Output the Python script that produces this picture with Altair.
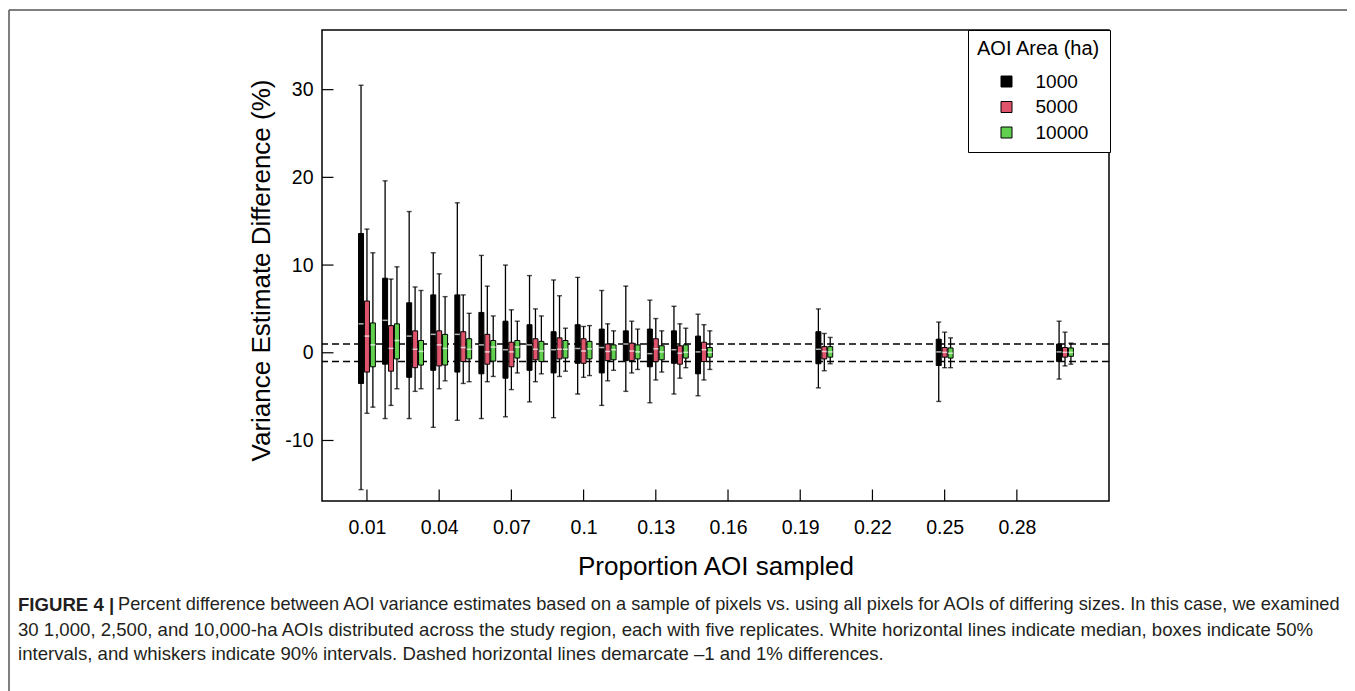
import altair as alt
import pandas as pd

# ---- data ----
proportions = [0.01, 0.02, 0.03, 0.04, 0.05, 0.06, 0.07, 0.08, 0.09, 0.10,
               0.11, 0.12, 0.13, 0.14, 0.15, 0.20, 0.25, 0.30]
areas = ["1000", "5000", "10000"]
colors = ["#000000", "#DF536B", "#61D04F"]

# AOI 1000 ha
hi_1000 = [30.5, 19.6, 16.1, 11.4, 17.1, 11.1, 10.0, 8.8, 8.3, 8.6, 7.1, 7.6, 6.0, 5.3, 4.4, 5.0, 3.5, 3.6]
q3_1000 = [13.6, 8.5, 5.7, 6.6, 6.6, 4.6, 3.6, 3.2, 2.4, 3.2, 2.7, 2.5, 2.7, 2.5, 1.9, 2.4, 1.55, 1.0]
med_1000 = [3.3, 3.7, 1.9, 2.1, 2.1, 0.9, 0.35, 0.9, 0.35, 0.5, 0.6, 1.0, -0.1, 0.35, 0.1, 0.4, 0.1, 0.1]
q1_1000 = [-3.5, -1.3, -2.8, -2.0, -2.2, -2.4, -2.9, -2.0, -2.3, -1.2, -2.3, -0.9, -1.6, -1.2, -2.4, -1.25, -1.45, -1.0]
lo_1000 = [-15.6, -7.5, -7.5, -8.5, -7.7, -7.5, -7.3, -5.6, -7.4, -4.7, -6.0, -4.4, -5.7, -4.7, -4.9, -4.0, -5.55, -3.0]

# AOI 5000 ha
hi_5000 = [14.1, 8.4, 7.5, 9.0, 6.6, 7.6, 4.9, 5.0, 6.5, 3.0, 3.3, 3.6, 3.9, 3.3, 3.2, 2.2, 2.35, 2.35]
q3_5000 = [5.9, 3.1, 2.5, 2.5, 2.4, 2.1, 1.2, 1.6, 1.7, 1.6, 1.0, 1.1, 1.6, 0.8, 1.2, 0.7, 0.6, 0.6]
med_5000 = [1.9, 0.5, 0.4, 0.9, 0.6, 0.1, 0.1, 0.4, 0.4, 0.2, 0.15, 0.2, 0.45, -0.05, 0.35, 0.15, 0.05, 0.05]
q1_5000 = [-2.2, -2.1, -1.7, -1.5, -1.0, -1.3, -1.6, -0.8, -0.7, -1.2, -0.9, -0.9, -1.0, -1.3, -1.0, -0.7, -0.5, -0.5]
lo_5000 = [-6.9, -6.0, -4.4, -4.1, -3.5, -3.3, -4.2, -3.3, -2.7, -2.8, -3.2, -2.3, -3.1, -2.9, -3.1, -2.05, -1.7, -1.5]

# AOI 10000 ha
hi_10000 = [11.4, 9.8, 7.1, 6.4, 4.5, 4.2, 3.6, 4.2, 2.8, 3.1, 2.5, 2.7, 2.5, 2.8, 2.5, 1.75, 1.7, 1.1]
q3_10000 = [3.4, 3.3, 1.4, 2.1, 1.6, 1.4, 1.4, 1.3, 1.4, 1.3, 0.9, 0.9, 0.8, 0.9, 0.6, 0.7, 0.55, 0.55]
med_10000 = [0.9, 1.4, 0.15, 0.5, 0.4, 0.65, 0.65, 0.2, 0.4, 0.45, 0.35, 0.1, 0.1, 0.05, 0.05, 0.1, -0.05, 0.05]
q1_10000 = [-1.6, -0.7, -1.4, -1.4, -0.7, -0.95, -0.6, -1.0, -0.6, -0.7, -0.8, -0.7, -0.8, -0.6, -0.5, -0.5, -0.6, -0.4]
lo_10000 = [-6.2, -4.1, -4.1, -3.2, -3.3, -2.7, -2.3, -2.4, -2.1, -2.6, -2.0, -1.9, -2.2, -1.7, -1.9, -1.25, -1.7, -1.3]

x_tick_values = [0.01, 0.04, 0.07, 0.1, 0.13, 0.16, 0.19, 0.22, 0.25, 0.28]
y_tick_values = [-10, 0, 10, 20, 30]
ref_lines = [-1, 1]

caption_bold = "FIGURE 4 |"
caption_1 = ("Percent difference between AOI variance estimates based on a sample of pixels vs. "
             "using all pixels for AOIs of differing sizes. In this case, we examined")
caption_2 = ("30 1,000, 2,500, and 10,000-ha AOIs distributed across the study region, each with "
             "five replicates. White horizontal lines indicate median, boxes indicate 50%")
caption_3 = ("intervals, and whiskers indicate 90% intervals. Dashed horizontal lines demarcate "
             "\u20131 and 1% differences.")

# ---- build table ----
series = {
    "1000": (lo_1000, q1_1000, med_1000, q3_1000, hi_1000),
    "5000": (lo_5000, q1_5000, med_5000, q3_5000, hi_5000),
    "10000": (lo_10000, q1_10000, med_10000, q3_10000, hi_10000),
}
dodge = 0.00246
rows = []
for k, area in enumerate(areas):
    lo, q1, med, q3, hi = series[area]
    for i, p in enumerate(proportions):
        rows.append({"p": p, "area": area, "order": k, "xpos": p + (k - 1) * dodge,
                     "lo": lo[i], "q1": q1[i], "med": med[i], "q3": q3[i], "hi": hi[i]})
df = pd.DataFrame(rows)

W, H = 787, 471
FONT = "Liberation Sans, Arial, Helvetica, sans-serif"

xscale = alt.Scale(domain=[-0.0066, 0.3162], nice=False, zero=False)
yscale = alt.Scale(domain=[-16.9, 36.8], nice=False, zero=False)

xaxis = alt.Axis(values=x_tick_values, format="~g", title="Proportion AOI sampled",
                 labelFontSize=19.5, titleFontSize=26, labelPadding=17, tickSize=0,
                 titleX=W / 2, titleY=65, titleBaseline="middle", titleAlign="center")
yaxis = alt.Axis(values=y_tick_values, title="Variance Estimate Difference (%)",
                 labelFontSize=19.5, titleFontSize=26, labelPadding=9, tickSize=0,
                 labelExpr="replace(datum.label, '\u2212', '-')",
                 titleX=-61, titleY=240, titleAngle=-90, titleBaseline="middle",
                 titleAlign="center")


def X(field):
    return alt.X(field, type="quantitative", scale=xscale, axis=xaxis)


def Y(field):
    return alt.Y(field, type="quantitative", scale=yscale, axis=yaxis)


base = alt.Chart(df)

dashed = alt.Chart(pd.DataFrame({"y": ref_lines})).mark_rule(
    color="black", strokeWidth=1.5, strokeDash=[7, 4]).encode(y=Y("y"))

whisk = base.mark_rule(color="black", strokeWidth=1.3).encode(
    x=X("xpos"), y=Y("lo"), y2="hi")
cap_lo = base.mark_tick(orient="horizontal", size=5, thickness=1.4, color="black").encode(
    x=X("xpos"), y=Y("lo"))
cap_hi = base.mark_tick(orient="horizontal", size=5, thickness=1.4, color="black").encode(
    x=X("xpos"), y=Y("hi"))

LEG_PAD = 9
boxes = base.mark_bar(size=5, stroke="black", strokeWidth=1, orient="vertical").encode(
    x=X("xpos"), y=Y("q1"), y2="q3",
    color=alt.Color("area:N", scale=alt.Scale(domain=areas, range=colors),
                    legend=alt.Legend(
                        title="AOI Area (ha)", orient="none", legendX=646, legendY=0,
                        strokeColor="black", fillColor="white", padding=LEG_PAD,
                        titleFontSize=20, titleFontWeight="normal", titleFont=FONT,
                        titleColor="black", titlePadding=13,
                        labelFontSize=19, labelFont=FONT, labelColor="black",
                        symbolType="square", symbolSize=121, symbolStrokeColor="black",
                        symbolStrokeWidth=1, symbolOffset=20, labelOffset=19.5,
                        rowPadding=5.5)))

medians = base.mark_tick(orient="horizontal", size=5, thickness=1.5, color="white").encode(
    x=X("xpos"), y=Y("med"))

ytk = alt.Chart(pd.DataFrame({"v": y_tick_values})).mark_rule(color="black", strokeWidth=1.2).encode(
    y=Y("v"), x=alt.value(0), x2=alt.value(11.5))
xtk = alt.Chart(pd.DataFrame({"v": x_tick_values})).mark_rule(color="black", strokeWidth=1.2).encode(
    x=X("v"), y=alt.value(H - 11.5), y2=alt.value(H))

cap_style = dict(align="left", baseline="middle", font=FONT, color="#231f20")
cap_b = alt.Chart(pd.DataFrame({"t": [caption_bold]})).mark_text(
    fontWeight="bold", fontSize=18.6, **cap_style).encode(
    x=alt.value(-304), y=alt.value(575), text="t:N")
cap_l1 = alt.Chart(pd.DataFrame({"t": [caption_1]})).mark_text(fontSize=18.2, **cap_style).encode(
    x=alt.value(-204), y=alt.value(575), text="t:N")
cap_l2 = alt.Chart(pd.DataFrame({"t": [caption_2]})).mark_text(fontSize=18.6, **cap_style).encode(
    x=alt.value(-304), y=alt.value(600), text="t:N")
cap_l3 = alt.Chart(pd.DataFrame({"t": [caption_3]})).mark_text(fontSize=18.6, **cap_style).encode(
    x=alt.value(-304), y=alt.value(624), text="t:N")

border_left = alt.Chart(pd.DataFrame({"a": [0]})).mark_rule(color="#555555", strokeWidth=1.5).encode(
    x=alt.value(-313), y=alt.value(-20), y2=alt.value(661))
border_top = alt.Chart(pd.DataFrame({"a": [0]})).mark_rule(color="#555555", strokeWidth=1.5).encode(
    x=alt.value(-313), x2=alt.value(1033), y=alt.value(-20))

chart = alt.layer(
    dashed, whisk, cap_lo, cap_hi, boxes, medians, ytk, xtk,
    cap_b, cap_l1, cap_l2, cap_l3, border_left, border_top
).properties(
    width=W, height=H,
    autosize=alt.AutoSizeParams(type="none"),
    padding={"left": 314, "top": 22, "right": 238, "bottom": 190},
).configure_view(
    stroke="black", strokeWidth=1.5
).configure_axis(
    labelFont=FONT, titleFont=FONT, labelColor="black", titleColor="black",
    titleFontWeight="normal", grid=False, domain=False, ticks=False
)

chart.save("out.html", embed_options={"renderer": "svg", "actions": False})
